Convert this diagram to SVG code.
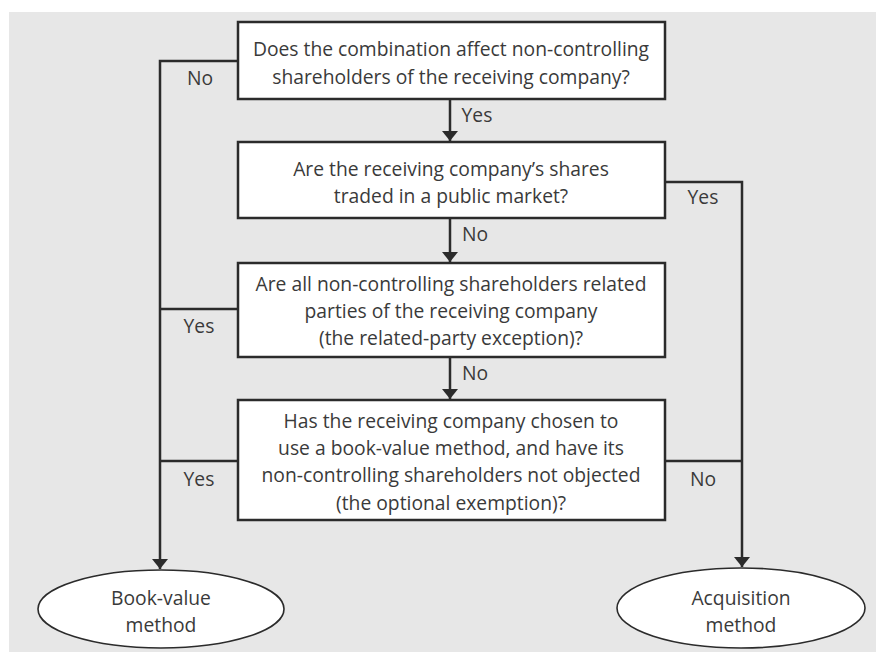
<svg xmlns="http://www.w3.org/2000/svg" width="883" height="655" viewBox="0 0 883 655">
<style>
.box{fill:#fff;stroke:#2b2b2b;stroke-width:2.5}
.ell{fill:#fff;stroke:#2b2b2b;stroke-width:1.6}
.ln{fill:none;stroke:#2b2b2b;stroke-width:2.5}
text{font-family:"Open Sans","Liberation Sans",Arial,sans-serif;font-size:19.3px;fill:#3a3a3a;text-anchor:middle}
</style>
<defs>
<marker id="ah" viewBox="0 0 10 16" refX="10" refY="8" markerWidth="10" markerHeight="16" markerUnits="userSpaceOnUse" orient="auto">
<path d="M0,0 L10,8 L0,16 Z" fill="#2b2b2b"/>
</marker>
</defs>
<rect x="9" y="12" width="867" height="640" fill="#e7e7e7"/>
<g id="connectors">
<path class="ln" d="M450,99 V141" marker-end="url(#ah)"/>
<path class="ln" d="M450,218 V262" marker-end="url(#ah)"/>
<path class="ln" d="M450,357 V399" marker-end="url(#ah)"/>
<path class="ln" d="M238,61 H160 V569" marker-end="url(#ah)"/>
<path class="ln" d="M238,309 H160"/>
<path class="ln" d="M238,461 H160"/>
<path class="ln" d="M665,182 H742 V567" marker-end="url(#ah)"/>
<path class="ln" d="M665,461 H742"/>
<text x="200" y="85">No</text>
<text x="477" y="122">Yes</text>
<text x="703" y="204">Yes</text>
<text x="475" y="241">No</text>
<text x="199" y="333">Yes</text>
<text x="475" y="380">No</text>
<text x="199" y="486">Yes</text>
<text x="703" y="486">No</text>
</g>
<g id="q1">
<rect class="box" x="238" y="22" width="427" height="77"/>
<text x="451" y="56">Does the combination affect non-controlling</text>
<text x="451" y="84">shareholders of the receiving company?</text>
</g>
<g id="q2">
<rect class="box" x="238" y="142" width="427" height="76"/>
<text x="451" y="176">Are the receiving company’s shares</text>
<text x="451" y="203">traded in a public market?</text>
</g>
<g id="q3">
<rect class="box" x="238" y="263" width="427" height="94"/>
<text x="451" y="291">Are all non-controlling shareholders related</text>
<text x="451" y="318">parties of the receiving company</text>
<text x="451" y="345">(the related-party exception)?</text>
</g>
<g id="q4">
<rect class="box" x="238" y="400" width="427" height="120"/>
<text x="451" y="428">Has the receiving company chosen to</text>
<text x="451" y="455">use a book-value method, and have its</text>
<text x="451" y="482">non-controlling shareholders not objected</text>
<text x="451" y="510">(the optional exemption)?</text>
</g>
<g id="bookvalue">
<ellipse class="ell" cx="161" cy="609" rx="123" ry="39"/>
<text x="161" y="605">Book-value</text>
<text x="161" y="632">method</text>
</g>
<g id="acquisition">
<ellipse class="ell" cx="741" cy="608" rx="124" ry="40"/>
<text x="741" y="605">Acquisition</text>
<text x="741" y="632">method</text>
</g>
</svg>
